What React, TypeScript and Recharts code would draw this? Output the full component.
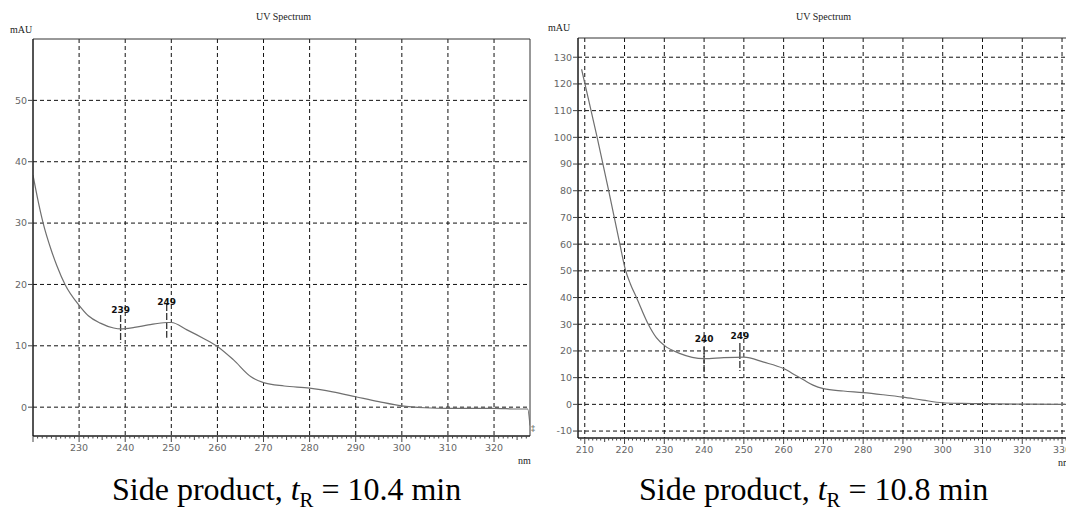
import React from 'react';
import {
  LineChart,
  Line,
  XAxis,
  YAxis,
  CartesianGrid,
  ReferenceArea,
  ReferenceLine,
  ReferenceDot,
} from 'recharts';

// Left spectrum: side product, tR = 10.4 min
const LEFT_NM = [220, 221, 222.2, 224, 225.2, 227, 230, 232, 234.6, 237.5, 239, 242, 245, 249, 250, 253.4, 257, 260, 263.5, 267.2, 270, 274.5, 280, 285, 290, 295, 300, 305, 310, 315, 320, 325, 327.3, 327.8];
const LEFT_MAU = [37.8, 34.0, 30.0, 25.5, 23.0, 19.9, 16.6, 14.9, 13.7, 12.9, 12.75, 13.0, 13.4, 13.8, 13.8, 12.6, 11.2, 9.9, 7.7, 5.0, 4.0, 3.45, 3.1, 2.5, 1.7, 0.9, 0.2, -0.1, -0.2, -0.2, -0.2, -0.3, -0.3, -3.0];
const LEFT_X_TICKS = [230, 240, 250, 260, 270, 280, 290, 300, 310, 320];
const LEFT_Y_TICKS = [0, 10, 20, 30, 40, 50];
const LEFT_X_DOMAIN = [220, 327.8];
const LEFT_Y_DOMAIN = [-4.7, 60];
// peak markers: nm, marker top/bottom (mAU), label height (mAU)
const LEFT_PEAKS = [
  { nm: 239, top: 15.0, bottom: 10.5, labelY: 15.9, label: '239' },
  { nm: 249, top: 16.8, bottom: 11.3, labelY: 17.2, label: '249' },
];

// Right spectrum: side product, tR = 10.8 min
const RIGHT_NM = [209.2, 210.2, 213.1, 216, 218.8, 220.2, 221.5, 223, 225.9, 228, 230, 234, 237, 240, 245, 250, 255, 260, 263.2, 265, 267.4, 270, 275, 280, 285, 290, 295, 300, 305, 310, 320, 330, 331.5];
const RIGHT_MAU = [125.5, 119.0, 100.1, 80.1, 60.2, 50.5, 45.0, 40.0, 30.2, 25.0, 22.1, 19.0, 17.6, 17.1, 17.5, 17.7, 15.8, 13.4, 10.7, 9.2, 7.2, 5.9, 5.0, 4.4, 3.6, 2.7, 1.6, 0.6, 0.35, 0.25, 0.1, 0, 0];
const RIGHT_X_TICKS = [210, 220, 230, 240, 250, 260, 270, 280, 290, 300, 310, 320, 330];
const RIGHT_Y_TICKS = [-10, 0, 10, 20, 30, 40, 50, 60, 70, 80, 90, 100, 110, 120, 130];
const RIGHT_X_DOMAIN = [208.3, 331.5];
const RIGHT_Y_DOMAIN = [-12.6, 137.2];
const RIGHT_PEAKS = [
  { nm: 240, top: 21.5, bottom: 11.5, labelY: 24.6, label: '240' },
  { nm: 249, top: 23.0, bottom: 12.5, labelY: 25.5, label: '249' },
];

const TICK_FONT = 'DejaVu Sans, Verdana, sans-serif';
const SERIF = 'Liberation Serif, Times New Roman, serif';

// every whole nm gets a small tick on the x axis
const minorTicks = (from: number, to: number) => {
  const out: number[] = [];
  for (let v = from; v <= to; v++) out.push(v);
  return out;
};

const makeNmTick = (labelled: number[]) => ({ x, y, payload }: any) => {
  const v = payload.value;
  const major = v % 10 === 0;
  const mid = v % 5 === 0;
  const len = major ? 6 : mid ? 4 : 2.5;
  return (
    <g>
      <line x1={x} x2={x} y1={y} y2={y + len} stroke="#444" strokeWidth={1} />
      {labelled.includes(v) && (
        <text x={x} y={y + 15} textAnchor="middle" fill="#666" fontSize={9.5} fontFamily={TICK_FONT}>
          {v}
        </text>
      )}
    </g>
  );
};

const PeakLabel = (text: string) => (props: any) => (
  <text
    x={props.cx}
    y={props.cy}
    textAnchor="middle"
    dominantBaseline="central"
    fontSize={9}
    fontWeight="bold"
    fontFamily={TICK_FONT}
    fill="#111"
  >
    {text}
  </text>
);

interface SpectrumProps {
  nm: number[];
  mau: number[];
  xTicks: number[];
  yTicks: number[];
  xDomain: number[];
  yDomain: number[];
  peaks: { nm: number; top: number; bottom: number; labelY: number; label: string }[];
  width: number;
  height: number;
  yAxisWidth: number;
  margin: { top: number; right: number; bottom: number; left: number };
}

function Spectrum({ nm, mau, xTicks, yTicks, xDomain, yDomain, peaks, width, height, yAxisWidth, margin }: SpectrumProps) {
  const data = nm.map((x, i) => ({ nm: x, mAU: mau[i] }));
  const ticks = minorTicks(Math.ceil(xDomain[0]), Math.floor(xDomain[1]));
  const NmTick = makeNmTick(xTicks);

  return (
    <LineChart width={width} height={height} data={data} margin={margin}>
      <CartesianGrid
        stroke="#111"
        strokeDasharray="4 3"
        verticalValues={xTicks}
        horizontalValues={yTicks}
      />
      <ReferenceArea
        x1={xDomain[0]}
        x2={xDomain[1]}
        y1={yDomain[0]}
        y2={yDomain[1]}
        fill="none"
        fillOpacity={0}
        stroke="#333"
        strokeWidth={1}
        ifOverflow="visible"
      />
      <XAxis
        dataKey="nm"
        type="number"
        domain={xDomain}
        ticks={ticks}
        interval={0}
        allowDataOverflow
        height={20}
        tickSize={0}
        tickMargin={0}
        tickLine={false}
        tick={<NmTick />}
        axisLine={{ stroke: '#111' }}
      />
      <YAxis
        type="number"
        domain={yDomain}
        ticks={yTicks}
        interval={0}
        allowDataOverflow
        width={yAxisWidth}
        tickSize={5}
        tickMargin={1}
        tickLine={{ stroke: '#444' }}
        axisLine={{ stroke: '#111' }}
        tick={{ fill: '#666', fontSize: 9.5, fontFamily: TICK_FONT }}
      />
      {peaks.map((p) => (
        <ReferenceLine
          key={p.label + p.nm}
          segment={[{ x: p.nm, y: p.top }, { x: p.nm, y: p.bottom }]}
          stroke="#333"
          strokeWidth={1.3}
          strokeDasharray="7 2"
          ifOverflow="visible"
        />
      ))}
      {peaks.map((p) => (
        <ReferenceDot
          key={'l' + p.label + p.nm}
          x={p.nm}
          y={p.labelY}
          r={1}
          ifOverflow="visible"
          shape={PeakLabel(p.label)}
        />
      ))}
      <Line
        type="monotone"
        dataKey="mAU"
        stroke="#6f6f6f"
        strokeWidth={1.2}
        dot={false}
        isAnimationActive={false}
      />
    </LineChart>
  );
}

const smallSerif: React.CSSProperties = {
  position: 'absolute',
  fontFamily: SERIF,
  fontSize: 10,
  color: '#222',
  lineHeight: '10px',
  whiteSpace: 'nowrap',
};

const caption: React.CSSProperties = {
  position: 'absolute',
  fontFamily: SERIF,
  fontSize: 32,
  color: '#000',
  lineHeight: '32px',
  whiteSpace: 'nowrap',
};

function Caption({ time }: { time: string }) {
  return (
    <span>
      Side product, <i>t</i>
      <sub style={{ fontSize: '0.65em' }}>R</sub> = {time} min
    </span>
  );
}

export default function App() {
  return (
    <div
      style={{
        position: 'absolute',
        left: 0,
        top: 0,
        width: 1066,
        height: 517,
        overflow: 'hidden',
        background: '#fff',
      }}
    >
      <div style={{ position: 'absolute', left: 0, top: 0 }}>
        <Spectrum
          nm={LEFT_NM}
          mau={LEFT_MAU}
          xTicks={LEFT_X_TICKS}
          yTicks={LEFT_Y_TICKS}
          xDomain={LEFT_X_DOMAIN}
          yDomain={LEFT_Y_DOMAIN}
          peaks={LEFT_PEAKS}
          width={540}
          height={470}
          yAxisWidth={33}
          margin={{ top: 39, right: 10, bottom: 14, left: 0 }}
        />
      </div>
      <div style={{ position: 'absolute', left: 540, top: 0 }}>
        <Spectrum
          nm={RIGHT_NM}
          mau={RIGHT_MAU}
          xTicks={RIGHT_X_TICKS}
          yTicks={RIGHT_Y_TICKS}
          xDomain={RIGHT_X_DOMAIN}
          yDomain={RIGHT_Y_DOMAIN}
          peaks={RIGHT_PEAKS}
          width={540}
          height={472}
          yAxisWidth={38}
          margin={{ top: 38, right: 12, bottom: 14, left: 0 }}
        />
      </div>

      <div style={{ ...smallSerif, left: 256, top: 12 }}>UV Spectrum</div>
      <div style={{ ...smallSerif, left: 796, top: 12 }}>UV Spectrum</div>
      <div style={{ ...smallSerif, left: 10, top: 25 }}>mAU</div>
      <div style={{ ...smallSerif, left: 548, top: 23 }}>mAU</div>
      <div style={{ ...smallSerif, left: 518, top: 456 }}>nm</div>
      <div style={{ ...smallSerif, left: 1058, top: 458 }}>nm</div>
      <div style={{ ...smallSerif, fontSize: 8, left: 531, top: 424 }}>‡</div>

      <div style={{ ...caption, left: 112, top: 473 }}>
        <Caption time="10.4" />
      </div>
      <div style={{ ...caption, left: 639, top: 473 }}>
        <Caption time="10.8" />
      </div>
    </div>
  );
}
